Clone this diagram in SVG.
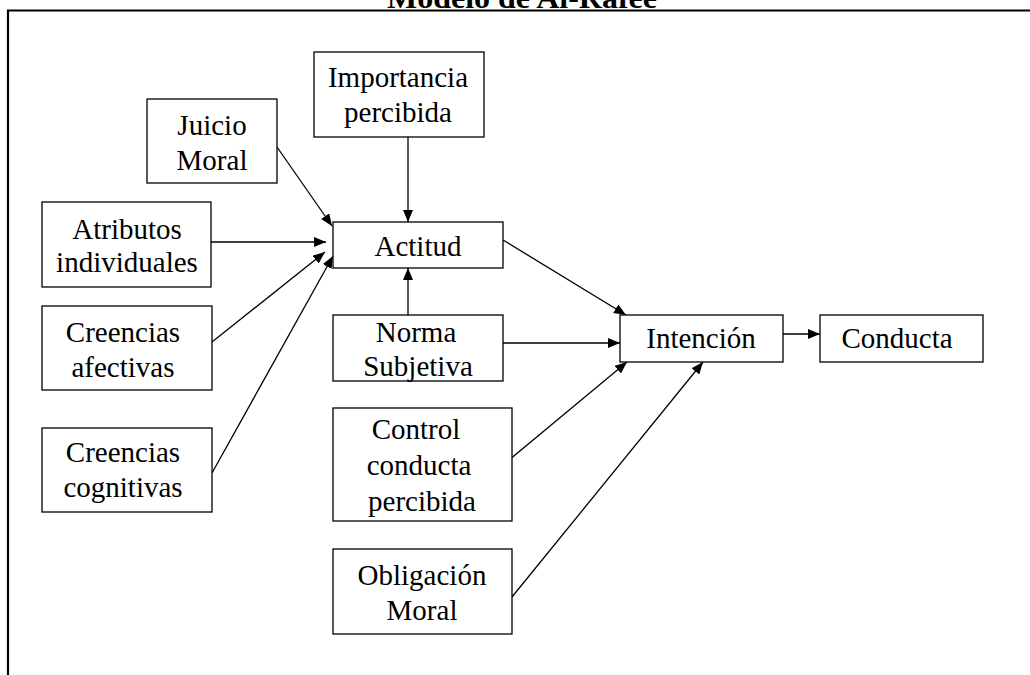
<svg xmlns="http://www.w3.org/2000/svg" width="1030" height="675" viewBox="0 0 1030 675">
  <style>
    .box { fill: #ffffff; stroke: #000000; stroke-width: 1.3; }
    .lbl { font-family: "Liberation Serif", "Times New Roman", serif; font-size: 29px; fill: #000000; text-anchor: middle; }
    .title { font-family: "Liberation Serif", "Times New Roman", serif; font-size: 30px; font-weight: bold; fill: #000000; }
    .edge { fill: none; stroke: #000000; stroke-width: 1.3; marker-end: url(#arrow); }
    .frame { fill: none; stroke: #000000; stroke-width: 2.2; }
  </style>
  <defs>
    <marker id="arrow" viewBox="0 0 12 10" refX="12" refY="5" markerWidth="12" markerHeight="10" markerUnits="userSpaceOnUse" orient="auto">
      <path d="M0,0 L12,5 L0,10 Z" fill="#000000"/>
    </marker>
  </defs>
  <rect width="1030" height="675" fill="#ffffff"/>

  <!-- page frame and heading -->
  <text class="title" x="387" y="8" textLength="270" lengthAdjust="spacingAndGlyphs">Modelo de Al-Rafee</text>
  <path class="frame" d="M1030,10.5 L8,10.5 L8,675"/>

  <!-- connectors -->
  <g id="connectors">
    <line class="edge" x1="408" y1="137" x2="408" y2="222"/>
    <line class="edge" x1="277" y1="147" x2="332" y2="226"/>
    <line class="edge" x1="202" y1="242" x2="326" y2="242"/>
    <line class="edge" x1="212" y1="342" x2="325" y2="252"/>
    <line class="edge" x1="212" y1="473" x2="333" y2="256"/>
    <line class="edge" x1="408" y1="315" x2="408" y2="268"/>
    <line class="edge" x1="503" y1="240" x2="626" y2="315"/>
    <line class="edge" x1="503" y1="343" x2="620" y2="343"/>
    <line class="edge" x1="503" y1="465" x2="627" y2="362"/>
    <line class="edge" x1="512" y1="597" x2="703" y2="362"/>
    <line class="edge" x1="783" y1="334" x2="820" y2="334"/>
  </g>

  <g id="importancia">
    <rect class="box" x="314" y="52" width="170" height="85"/>
    <text class="lbl" x="398" y="87">Importancia</text>
    <text class="lbl" x="398" y="122">percibida</text>
  </g>
  <g id="juicio">
    <rect class="box" x="147" y="99" width="130" height="84"/>
    <text class="lbl" x="212" y="135">Juicio</text>
    <text class="lbl" x="212" y="170">Moral</text>
  </g>
  <g id="atributos">
    <rect class="box" x="42" y="202" width="169" height="85"/>
    <text class="lbl" x="127" y="239">Atributos</text>
    <text class="lbl" x="127" y="272">individuales</text>
  </g>
  <g id="afectivas">
    <rect class="box" x="42" y="306" width="170" height="84"/>
    <text class="lbl" x="123" y="342">Creencias</text>
    <text class="lbl" x="123" y="377">afectivas</text>
  </g>
  <g id="cognitivas">
    <rect class="box" x="42" y="428" width="170" height="84"/>
    <text class="lbl" x="123" y="462">Creencias</text>
    <text class="lbl" x="123" y="497">cognitivas</text>
  </g>
  <g id="actitud">
    <rect class="box" x="333" y="222" width="170" height="46"/>
    <text class="lbl" x="418" y="256">Actitud</text>
  </g>
  <g id="norma">
    <rect class="box" x="333" y="315" width="170" height="66"/>
    <text class="lbl" x="416" y="342">Norma</text>
    <text class="lbl" x="418" y="376">Subjetiva</text>
  </g>
  <g id="control">
    <rect class="box" x="333" y="408" width="179" height="113"/>
    <text class="lbl" x="416" y="439">Control</text>
    <text class="lbl" x="419" y="475">conducta</text>
    <text class="lbl" x="422" y="511">percibida</text>
  </g>
  <g id="obligacion">
    <rect class="box" x="333" y="549" width="179" height="85"/>
    <text class="lbl" x="422" y="585">Obligación</text>
    <text class="lbl" x="422" y="620">Moral</text>
  </g>
  <g id="intencion">
    <rect class="box" x="620" y="315" width="163" height="47"/>
    <text class="lbl" x="701" y="348">Intención</text>
  </g>
  <g id="conducta">
    <rect class="box" x="820" y="315" width="163" height="47"/>
    <text class="lbl" x="897" y="348">Conducta</text>
  </g>
</svg>
